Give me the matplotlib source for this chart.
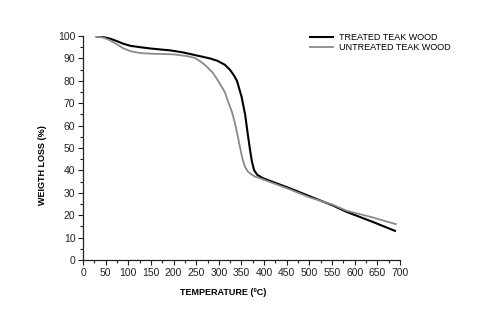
import numpy as np
import matplotlib.pyplot as plt
from matplotlib.ticker import MultipleLocator

plt.rcParams['font.family'] = ['Liberation Sans', 'DejaVu Sans']

# values (temperature in C, weight %)
temp_treated = [30, 45, 60, 75, 88, 105, 126, 150, 170, 192, 220, 258, 280, 296, 313, 325,
                333, 340, 350, 358, 364, 369, 373, 378, 385, 395, 400, 457, 500, 550, 582, 640, 689]
wt_treated = [99.8, 99.5, 98.8, 97.7, 96.6, 95.6, 95.0, 94.4, 94.0, 93.6, 92.7, 91.0, 90.0, 89.0, 87.2, 84.8,
              82.5, 80.0, 73.0, 65.0, 56.0, 49.0, 44.0, 40.0, 38.0, 36.8, 36.3, 32.0, 28.5, 24.5, 21.5, 17.0, 13.0]

temp_untreated = [30, 45, 60, 75, 88, 105, 126, 150, 170, 200, 230, 247, 258, 270, 287, 300,
                  313, 320, 329, 335, 342, 348, 353, 358, 364, 372, 380, 395, 400, 457, 500, 550, 582, 640, 691]
wt_untreated = [99.8, 99.3, 98.0, 96.3, 94.6, 93.2, 92.4, 92.1, 92.0, 91.8, 91.0, 90.2, 88.8, 87.0, 83.5, 79.5,
                75.0, 71.0, 66.0, 61.5, 55.0, 49.0, 44.6, 41.5, 39.5, 38.2, 37.2, 36.2, 35.8, 31.5, 28.0, 24.8, 22.0, 19.0, 16.0]

fig = plt.figure(figsize=(4.84, 3.13), dpi=100)
ax = fig.add_axes([0.1715, 0.1693, 0.6549, 0.7157])

ax.plot(temp_treated, wt_treated, color='black', lw=1.5, solid_joinstyle='round',
        label='TREATED TEAK WOOD')
ax.plot(temp_untreated, wt_untreated, color='#8a8a8a', lw=1.3, solid_joinstyle='round',
        label='UNTREATED TEAK WOOD')

ax.set_xlim(0, 700)
ax.set_ylim(0, 100)
ax.xaxis.set_major_locator(MultipleLocator(50))
ax.xaxis.set_minor_locator(MultipleLocator(25))
ax.yaxis.set_major_locator(MultipleLocator(10))
ax.yaxis.set_minor_locator(MultipleLocator(5))
ax.tick_params(which='major', direction='out', length=3.5, width=0.8, labelsize=7.5, colors='#222222', pad=2)
ax.tick_params(which='minor', direction='out', length=2, width=0.8, colors='#222222')

for s in ['top', 'right']:
    ax.spines[s].set_visible(False)
for s in ['left', 'bottom']:
    ax.spines[s].set_linewidth(0.9)
    ax.spines[s].set_color('#222222')

ax.set_xlabel('TEMPERATURE (ºC)', fontsize=6.5, fontweight='bold')
ax.set_ylabel('WEIGTH LOSS (%)', fontsize=6.5, fontweight='bold')
# label positions in axes fraction (reference places them off-centre)
ax.xaxis.set_label_coords((223 - 83) / 317, -(288 - 260) / 224)
ax.yaxis.set_label_coords(-(83 - 47) / 317, (260 - 165) / 224)

ax.legend(loc='upper left', bbox_to_anchor=(310 / 484, 1 - 33 / 313), bbox_transform=fig.transFigure,
          frameon=False, fontsize=6.5, handlelength=2.6, handletextpad=0.6, labelspacing=0.15,
          borderpad=0, borderaxespad=0)

fig.savefig('out.png', dpi=100)
